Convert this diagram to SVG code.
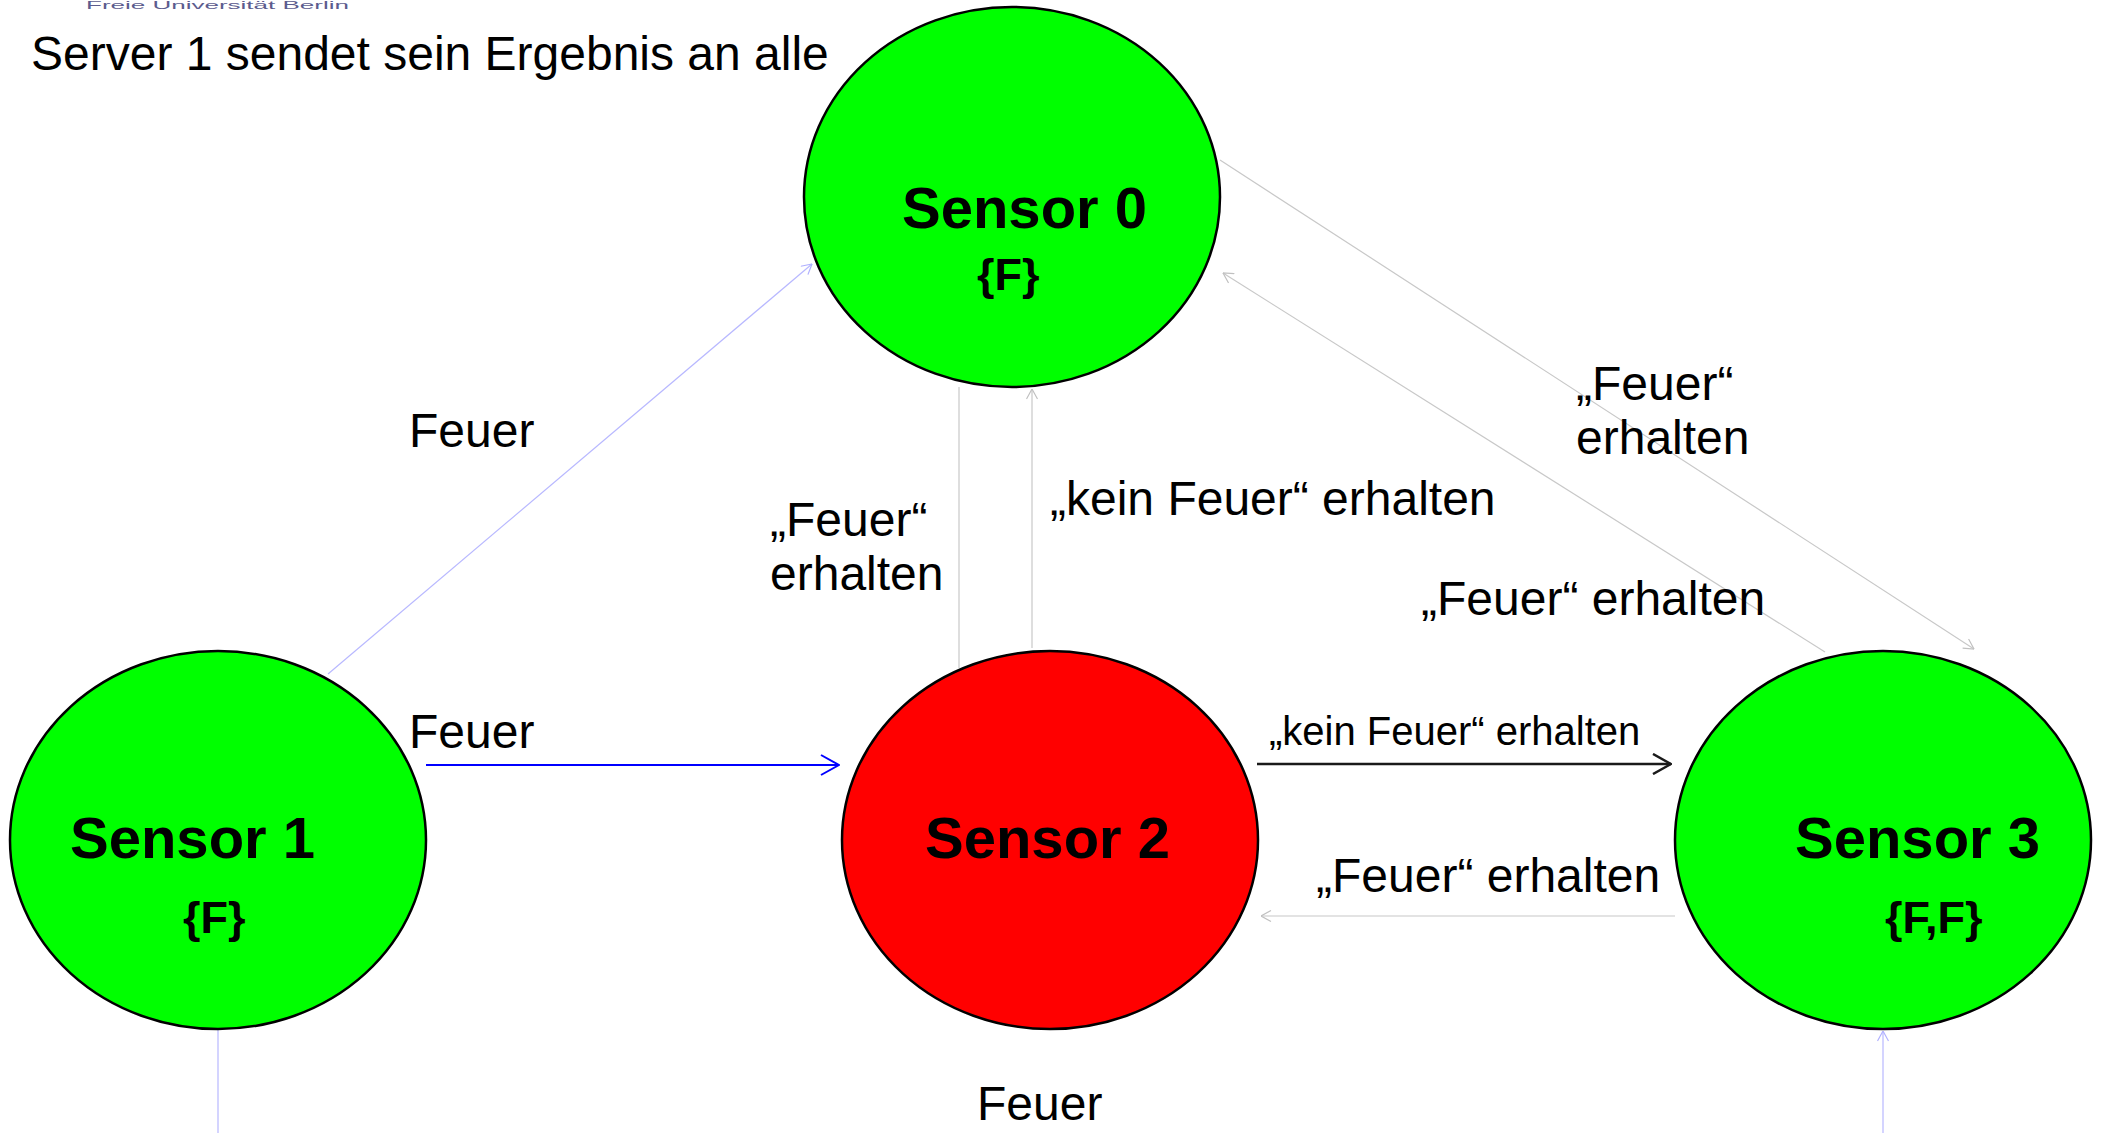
<svg xmlns="http://www.w3.org/2000/svg" width="2101" height="1133" viewBox="0 0 2101 1133">
<style>
text { font-family: "Liberation Sans", Arial, sans-serif; fill: #000; }
.lbl { font-size: 48px; }
.small { font-size: 40px; }
.name { font-size: 58px; font-weight: bold; }
.set { font-size: 45px; font-weight: bold; }
.node { stroke: #000; stroke-width: 2.5; }
.green { fill: #00ff00; }
.red { fill: #ff0000; }
.gray { stroke: #c8c8c8; stroke-width: 1.2; fill: none; }
.lblue { stroke: #b8b8ff; stroke-width: 1.2; fill: none; }
.blue { stroke: #0000ff; stroke-width: 2; fill: none; }
.black { stroke: #1a1a1a; stroke-width: 2.5; fill: none; }
</style>
<defs>
<marker id="mBlue" markerUnits="userSpaceOnUse" viewBox="0 0 20 22" markerWidth="20" markerHeight="22" refX="19" refY="11" orient="auto">
<path d="M1,1 L19,11 L1,21" fill="none" stroke="#0000ff" stroke-width="2"/>
</marker>
<marker id="mBlack" markerUnits="userSpaceOnUse" viewBox="0 0 20 22" markerWidth="20" markerHeight="22" refX="19" refY="11" orient="auto">
<path d="M1,1 L19,11 L1,21" fill="none" stroke="#1a1a1a" stroke-width="2.5"/>
</marker>
<marker id="mGray" markerUnits="userSpaceOnUse" viewBox="0 0 11 12" markerWidth="11" markerHeight="12" refX="10.5" refY="6" orient="auto">
<path d="M0.5,0.5 L10.5,6 L0.5,11.5" fill="none" stroke="#c0c0c0" stroke-width="1.2"/>
</marker>
<marker id="mLBlue" markerUnits="userSpaceOnUse" viewBox="0 0 11 12" markerWidth="11" markerHeight="12" refX="10.5" refY="6" orient="auto">
<path d="M0.5,0.5 L10.5,6 L0.5,11.5" fill="none" stroke="#b0b0ff" stroke-width="1.2"/>
</marker>
</defs>
<rect width="2101" height="1133" fill="#fff"/>
<text x="86" y="9" textLength="263" lengthAdjust="spacingAndGlyphs" style="font-size:11px; fill:#5c5c8e">Freie Universität Berlin</text>
<text class="lbl" x="31" y="70">Server 1 sendet sein Ergebnis an alle</text>

<g id="connectors">
<line class="lblue" x1="328" y1="674" x2="812" y2="264" marker-end="url(#mLBlue)"/>
<line class="blue" x1="426" y1="765" x2="839" y2="765" marker-end="url(#mBlue)"/>
<line class="gray" x1="959" y1="387" x2="959" y2="668"/>
<line class="gray" x1="1032" y1="648" x2="1032" y2="389" marker-end="url(#mGray)"/>
<line class="gray" x1="1220" y1="160" x2="1974" y2="649" marker-end="url(#mGray)"/>
<line class="gray" x1="1825" y1="652" x2="1223" y2="273" marker-end="url(#mGray)"/>
<line class="black" x1="1257" y1="764" x2="1671" y2="764" marker-end="url(#mBlack)"/>
<line class="gray" x1="1675" y1="916" x2="1261" y2="916" marker-end="url(#mGray)"/>
<line class="lblue" x1="218" y1="1029" x2="218" y2="1133"/>
<line class="lblue" x1="1883" y1="1133" x2="1883" y2="1031" marker-end="url(#mLBlue)"/>
<text class="lbl" x="409" y="447">Feuer</text>
<text class="lbl" x="409" y="748">Feuer</text>
<text class="lbl" x="770" y="536">„Feuer“</text>
<text class="lbl" x="770" y="590">erhalten</text>
<text class="lbl" x="1050" y="515">„kein Feuer“ erhalten</text>
<text class="lbl" x="1576" y="400">„Feuer“</text>
<text class="lbl" x="1576" y="454">erhalten</text>
<text class="lbl" x="1421" y="615">„Feuer“ erhalten</text>
<text class="small" x="1269" y="745">„kein Feuer“ erhalten</text>
<text class="lbl" x="1316" y="892">„Feuer“ erhalten</text>
<text class="lbl" x="977" y="1120">Feuer</text>
</g>

<g id="sensor0">
<ellipse class="node green" cx="1012" cy="197" rx="208" ry="190"/>
<text class="name" x="902" y="228">Sensor 0</text>
<text class="set" x="977" y="290">{F}</text>
</g>
<g id="sensor1">
<ellipse class="node green" cx="218" cy="840" rx="208" ry="189"/>
<text class="name" x="70" y="858">Sensor 1</text>
<text class="set" x="183" y="933">{F}</text>
</g>
<g id="sensor2">
<ellipse class="node red" cx="1050" cy="840" rx="208" ry="189"/>
<text class="name" x="925" y="858">Sensor 2</text>
</g>
<g id="sensor3">
<ellipse class="node green" cx="1883" cy="840" rx="208" ry="189"/>
<text class="name" x="1795" y="858">Sensor 3</text>
<text class="set" x="1885" y="933">{F,F}</text>
</g>
</svg>
